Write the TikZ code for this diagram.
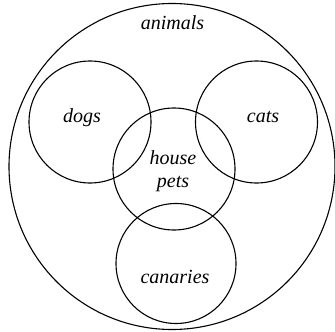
\documentclass[tikz,border=0pt]{standalone}
\usepackage{fontspec}
\setmainfont{Liberation Serif}
\begin{document}
\begin{tikzpicture}[x=1pt,y=-1pt,
  set/.style={draw=black, line width=1.1pt, circle, inner sep=0pt},
  lbl/.style={font=\fontsize{20}{23}\selectfont\itshape, inner sep=0pt, align=center}]
\useasboundingbox (0,0) rectangle (335,332);
\node[set, minimum size=326pt] (animals) at (172,166.5) {};
\node[set, minimum size=122pt] (dogs) at (90,122) {};
\node[set, minimum size=122pt] (cats) at (256.5,122) {};
\node[set, minimum size=122pt] (pets) at (174,169) {};
\node[set, minimum size=120pt] (canaries) at (176,263.5) {};
\node[lbl] (tanimals) at (172.5,23) {animals};
\node[lbl] (tdogs) at (82,118) {dogs};
\node[lbl] (tcats) at (263,117) {cats};
\node[lbl] (tpets) at (173,171) {house\\pets};
\node[lbl] (tcanaries) at (175,277) {canaries};
\end{tikzpicture}
\end{document}
